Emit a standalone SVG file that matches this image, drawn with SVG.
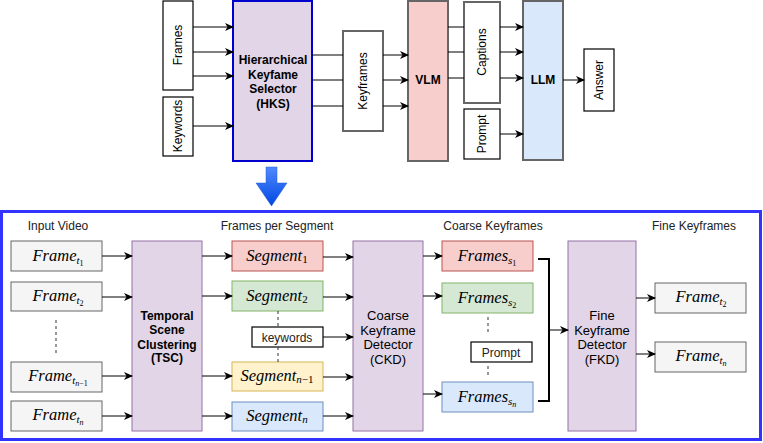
<svg xmlns="http://www.w3.org/2000/svg" width="763" height="443" viewBox="0 0 763 443">
<defs>
<marker id="ah" markerWidth="9" markerHeight="8" refX="8" refY="4" orient="auto" markerUnits="userSpaceOnUse">
<path d="M0,0 L9,4 L0,8 L2.5,4 z" fill="#000"/>
</marker>
<linearGradient id="bg" x1="0" y1="0" x2="0" y2="1">
<stop offset="0" stop-color="#4f8bff"/>
<stop offset="1" stop-color="#0047e0"/>
</linearGradient>
<style>
.t{font-family:"Liberation Sans",Arial,sans-serif;font-size:12px;fill:#000;text-anchor:middle}
.b{font-weight:bold}
.c13{font-size:13px}
.lbl{font-family:"Liberation Sans",Arial,sans-serif;font-size:12px;fill:#222;text-anchor:middle}
.m{font-family:"Liberation Serif","Times New Roman",serif;font-style:italic;font-size:16.5px;fill:#000;text-anchor:middle}
.s1{font-size:11px}
.s2{font-size:8px}
.up{font-style:normal}
.box{fill:#fff;stroke:#000;stroke-width:1.2}
.gbox{fill:#fff;stroke:#666;stroke-width:2}
.fr{fill:#f5f5f5;stroke:#666;stroke-width:1}
.pur{fill:#e1d5e7;stroke:#9673a6;stroke-width:1}
.red{fill:#f8cecc;stroke:#b85450;stroke-width:1}
.grn{fill:#d5e8d4;stroke:#82b366;stroke-width:1}
.yel{fill:#fff2cc;stroke:#d6b656;stroke-width:1}
.blu{fill:#dae8fc;stroke:#6c8ebf;stroke-width:1}
.ln{stroke:#000;stroke-width:1;fill:none}
.ar{stroke:#000;stroke-width:1;fill:none;marker-end:url(#ah)}
.dash{stroke:#333;stroke-width:1;stroke-dasharray:3,3;fill:none}
</style>
</defs>
<rect width="763" height="443" fill="#fff"/>

<!-- ===== Top pipeline ===== -->
<g id="frames-in"><rect class="box" x="163" y="1" width="30" height="89"/><text class="t" transform="translate(182,45) rotate(-90)">Frames</text></g>
<g id="keywords-in"><rect class="box" x="163" y="97" width="30" height="59"/><text class="t" transform="translate(182,126) rotate(-90)">Keywords</text></g>
<g id="hks"><rect x="233" y="1" width="79" height="160" fill="#e1d5e7" stroke="#0000cc" stroke-width="2"/>
<text class="t b"><tspan x="273" y="64">Hierarchical</tspan><tspan x="273" y="78.5">Keyfame</tspan><tspan x="273" y="93">Selector</tspan><tspan x="273" y="107.5">(HKS)</tspan></text></g>
<g id="keyframes"><rect class="gbox" x="343" y="31" width="40" height="100"/><text class="t" transform="translate(367,81) rotate(-90)">Keyframes</text></g>
<g id="vlm"><rect x="408" y="1" width="40" height="160" fill="#f8cecc" stroke="#666" stroke-width="2"/><text class="t b" x="428" y="84">VLM</text></g>
<g id="captions"><rect class="gbox" x="464" y="2" width="36" height="101"/><text class="t" transform="translate(486,52) rotate(-90)">Captions</text></g>
<g id="prompt-top"><rect class="box" x="464" y="109" width="36" height="50"/><text class="t" transform="translate(486,134) rotate(-90)">Prompt</text></g>
<g id="llm"><rect x="523" y="1" width="40" height="159" fill="#dae8fc" stroke="#666" stroke-width="2"/><text class="t b" x="543" y="84">LLM</text></g>
<g id="answer"><rect class="box" x="584" y="49" width="30" height="62"/><text class="t" transform="translate(603,80) rotate(-90)">Answer</text></g>

<g id="blue-arrow"><path d="M266,167 H277 V183 H287 L271.5,206 L256,183 H266 Z" fill="url(#bg)" stroke="#2a5fd0" stroke-width="0.5"/></g>

<!-- ===== Bottom container ===== -->
<g id="container"><rect x="1.5" y="211.5" width="759" height="228" fill="none" stroke="#3333ff" stroke-width="3"/></g>

<g id="headers">
<text class="lbl" x="58" y="230">Input Video</text>
<text class="lbl" x="277" y="230">Frames per Segment</text>
<text class="lbl" x="493" y="230">Coarse Keyframes</text>
<text class="lbl" x="694" y="230">Fine Keyframes</text>
</g>

<g id="frame-t1"><rect class="fr" x="11" y="241" width="91" height="30"/><text class="m" x="58" y="261">Frame<tspan class="s1" dy="3">t</tspan><tspan class="s2 up" dy="2">1</tspan></text></g>
<g id="frame-t2"><rect class="fr" x="11" y="282" width="91" height="29"/><text class="m" x="58" y="301">Frame<tspan class="s1" dy="3">t</tspan><tspan class="s2 up" dy="2">2</tspan></text></g>
<g id="frame-tn1"><rect class="fr" x="11" y="362" width="91" height="30"/><text class="m" x="58" y="381">Frame<tspan class="s1" dy="3">t</tspan><tspan class="s2" dy="2">n</tspan><tspan class="s2 up">−1</tspan></text></g>
<g id="frame-tn"><rect class="fr" x="11" y="401" width="91" height="30"/><text class="m" x="58" y="420">Frame<tspan class="s1" dy="3">t</tspan><tspan class="s2" dy="2">n</tspan></text></g>

<g id="tsc"><rect class="pur" x="132" y="241" width="70" height="190"/>
<text class="t b"><tspan x="167" y="320">Temporal</tspan><tspan x="167" y="334">Scene</tspan><tspan x="167" y="348.5">Clustering</tspan><tspan x="167" y="362">(TSC)</tspan></text></g>

<g id="seg-1"><rect class="red" x="232" y="241" width="91" height="30"/><text class="m" x="277" y="261">Segment<tspan class="s1 up" dy="2">1</tspan></text></g>
<g id="seg-2"><rect class="grn" x="232" y="281" width="91" height="30"/><text class="m" x="277" y="301">Segment<tspan class="s1 up" dy="2">2</tspan></text></g>
<g id="keywords-b"><rect class="box" x="252" y="327" width="71" height="20"/><text class="lbl" x="287" y="341.5">keywords</text></g>
<g id="seg-n1"><rect class="yel" x="232" y="362" width="91" height="29"/><text class="m" x="277" y="381">Segment<tspan class="s1" dy="2">n</tspan><tspan class="s1 up">−1</tspan></text></g>
<g id="seg-n"><rect class="blu" x="232" y="402" width="91" height="29"/><text class="m" x="277" y="421">Segment<tspan class="s1" dy="2">n</tspan></text></g>

<g id="ckd"><rect class="pur" x="353" y="241" width="70" height="190"/>
<text class="t c13"><tspan x="388" y="320">Coarse</tspan><tspan x="388" y="334.5">Keyframe</tspan><tspan x="388" y="349">Detector</tspan><tspan x="388" y="363.5">(CKD)</tspan></text></g>

<g id="frames-s1"><rect class="red" x="442" y="241" width="91" height="30"/><text class="m" x="487" y="261">Frames<tspan class="s1" dy="3">s</tspan><tspan class="s2 up" dy="2">1</tspan></text></g>
<g id="frames-s2"><rect class="grn" x="442" y="283" width="91" height="30"/><text class="m" x="487" y="303">Frames<tspan class="s1" dy="3">s</tspan><tspan class="s2 up" dy="2">2</tspan></text></g>
<g id="prompt-b"><rect class="box" x="471" y="342" width="61" height="20"/><text class="lbl" x="501" y="356.5">Prompt</text></g>
<g id="frames-sn"><rect class="blu" x="442" y="382" width="91" height="30"/><text class="m" x="487" y="402">Frames<tspan class="s1" dy="3">s</tspan><tspan class="s2" dy="2">n</tspan></text></g>

<g id="fkd"><rect class="pur" x="568" y="241" width="68" height="190"/>
<text class="t c13"><tspan x="602" y="320">Fine</tspan><tspan x="602" y="334.5">Keyframe</tspan><tspan x="602" y="349">Detector</tspan><tspan x="602" y="363.5">(FKD)</tspan></text></g>

<g id="fine-t2"><rect class="fr" x="655" y="283" width="91" height="30"/><text class="m" x="701" y="302">Frame<tspan class="s1" dy="3">t</tspan><tspan class="s2 up" dy="2">2</tspan></text></g>
<g id="fine-tn"><rect class="fr" x="655" y="342" width="91" height="30"/><text class="m" x="701" y="361">Frame<tspan class="s1" dy="3">t</tspan><tspan class="s2" dy="2">n</tspan></text></g>

<!-- ===== Connectors ===== -->
<g id="connectors">
<path class="ar" d="M193,27 H233"/>
<path class="ar" d="M193,52 H233"/>
<path class="ar" d="M193,76 H233"/>
<path class="ar" d="M193,126 H233"/>
<path class="ln" d="M312,55 H343"/>
<path class="ln" d="M312,80 H343"/>
<path class="ln" d="M312,106 H343"/>
<path class="ar" d="M383,55 H408"/>
<path class="ar" d="M383,80 H408"/>
<path class="ar" d="M383,106 H408"/>
<path class="ln" d="M448,27 H464"/>
<path class="ln" d="M448,52 H464"/>
<path class="ln" d="M448,78 H464"/>
<path class="ar" d="M500,27 H523"/>
<path class="ar" d="M500,52 H523"/>
<path class="ar" d="M500,78 H523"/>
<path class="ar" d="M500,134 H523"/>
<path class="ar" d="M563,80 H584"/>

<path class="ar" d="M102,256 H132"/>
<path class="ar" d="M102,297 H132"/>
<path class="ar" d="M102,376 H132"/>
<path class="ar" d="M102,416 H132"/>
<path class="dash" d="M56,320 V354"/>
<path class="ar" d="M202,256 H232"/>
<path class="ar" d="M202,296 H232"/>
<path class="ar" d="M202,376 H232"/>
<path class="ar" d="M202,416 H232"/>
<path class="dash" d="M278,311 V327"/>
<path class="dash" d="M278,347 V362"/>
<path class="ar" d="M323,257 H353"/>
<path class="ar" d="M323,297 H353"/>
<path class="ar" d="M323,337 H353"/>
<path class="ar" d="M323,377 H353"/>
<path class="ar" d="M323,416 H353"/>
<path class="ar" d="M423,256 H442"/>
<path class="ar" d="M423,296 H442"/>
<path class="ar" d="M423,394 H442"/>
<path class="dash" d="M488,317 V333"/>
<path class="dash" d="M488,366 V378"/>
<path d="M538,259 H549 V401 H538" fill="none" stroke="#000" stroke-width="2"/>
<path class="ar" d="M549,330 H568" stroke-width="2"/>
<path class="ar" d="M636,298 H655"/>
<path class="ar" d="M636,354 H655"/>
</g>
</svg>
